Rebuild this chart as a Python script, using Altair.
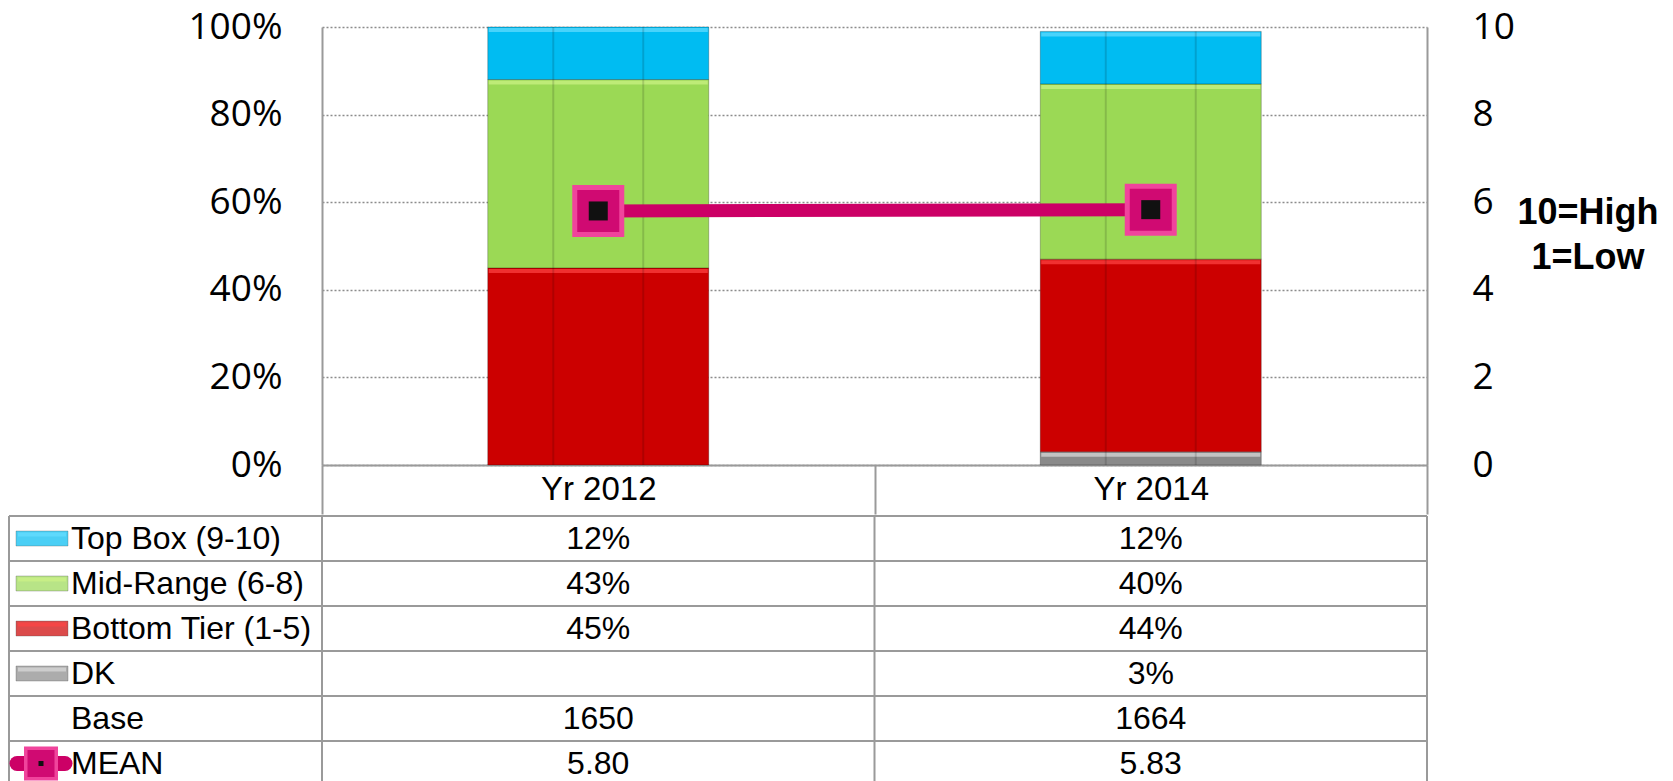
import altair as alt
import pandas as pd

# ---------------- data ----------------
years = ["Yr 2012", "Yr 2014"]
top_box = [12, 12]
mid_range = [43, 40]
bottom_tier = [45, 44]
dk = [None, 3]
base_n = [1650, 1664]
mean_score = [5.80, 5.83]

series_names = ["DK", "Bottom Tier (1-5)", "Mid-Range (6-8)", "Top Box (9-10)"]
table_rows = ["Top Box (9-10)", "Mid-Range (6-8)", "Bottom Tier (1-5)", "DK", "Base", "MEAN"]
scale_note = ["10=High", "1=Low"]
pct_ticks = [0, 20, 40, 60, 80, 100]
mean_ticks = [0, 2, 4, 6, 8, 10]

# ---------------- styles / layout ----------------
series_fill = ["#8A8A8A", "#CC0000", "#9BD955", "#00BCF2"]
series_bevel = ["#DCDCDC", "#FF4444", "#CDF286", "#66DDFF"]
FONT_AX = "Open Sans"
FONT_TB = "Liberation Sans"
GRID = "#8C8C8C"
BORDER = "#9A9A9A"
PW, PH = 1105, 438
LW = 313
HEADER_H = 49
ROW_H = 45
TABLE_H = 270

series_values = dict(zip(series_names, [dk, bottom_tier, mid_range, top_box]))

recs = []
for i, s in enumerate(series_names):
    for j, yr in enumerate(years):
        v = series_values[s][j]
        if v is not None:
            recs.append({"series": s, "year": yr, "value": v, "order": i})
bar_df = pd.DataFrame(recs)
mean_df = pd.DataFrame({"year": years, "mean": mean_score})

cells = []
for k, r in enumerate(table_rows):
    for j, yr in enumerate(years):
        if r in series_values:
            v = series_values[r][j]
            t = "" if v is None else f"{v}%"
        elif r == "Base":
            t = str(base_n[j])
        else:
            t = f"{mean_score[j]:.2f}"
        cells.append({"row": r, "year": yr, "text": t, "mid": k + 0.5})
tdf = pd.DataFrame(cells)
ldf = pd.DataFrame({"row": table_rows, "mid": [k + 0.5 for k in range(len(table_rows))]})
edges_df = pd.DataFrame({"edge": list(range(len(table_rows)))})
years_df = pd.DataFrame({"year": years})
one_df = pd.DataFrame({"k": [0]})

fill_scale = alt.Scale(domain=series_names, range=series_fill)
bevel_scale = alt.Scale(domain=series_names, range=series_bevel)

# ---------------- top chart ----------------
x_enc = alt.X(
    "year:N", sort=years, title=None,
    scale=alt.Scale(domain=years, paddingInner=0, paddingOuter=0),
    axis=alt.Axis(orient="bottom", domain=True, domainColor=BORDER, domainWidth=2,
                  ticks=True, tickBand="extent", tickSize=HEADER_H, tickColor=BORDER, tickWidth=2,
                  labelFont=FONT_TB, labelFontSize=33, labelColor="#000", labelBaseline="middle",
                  labelPadding=-HEADER_H / 2, labelAngle=0, grid=False),
)
x_plain = alt.X("year:N", sort=years, title=None)

y_pct = alt.Y(
    "v0:Q", title=None,
    scale=alt.Scale(domain=[0, 100], nice=False, zero=True),
    axis=alt.Axis(values=pct_ticks, labelExpr="datum.value + '%'", labelFont=FONT_AX,
                  labelFontSize=37, labelColor="#000", labelPadding=40, ticks=False, tickSize=0,
                  domain=True, domainColor=BORDER, domainWidth=2, grid=True, gridColor=GRID,
                  gridDash=[2, 2], gridWidth=1.5, minExtent=LW, maxExtent=LW),
)

stacked = alt.Chart(bar_df).transform_stack(
    stack="value", groupby=["year"],
    sort=[alt.SortField("order", order="ascending")], as_=["v0", "v1"],
)
bars = stacked.mark_bar(width=alt.RelativeBandSize(0.4), stroke="#000", strokeOpacity=0.25,
                        strokeWidth=1).encode(
    x=x_enc, y=y_pct, y2="v1",
    fill=alt.Fill("series:N", scale=fill_scale, legend=None),
)
bevel = stacked.mark_tick(orient="horizontal", size=219, thickness=4).encode(
    x=x_plain, y=alt.Y("v1:Q", title=None), yOffset=alt.value(3),
    color=alt.Color("series:N", scale=bevel_scale, legend=None),
)
thirds = [
    stacked.mark_rule(color="#000", opacity=0.14, strokeWidth=2).encode(
        x=alt.X("year:N", sort=years, title=None, bandPosition=bp),
        y=alt.Y("v0:Q", title=None), y2="v1")
    for bp in (0.4186, 0.5814)
]

y_mean = alt.Y(
    "mean:Q", title=None, scale=alt.Scale(domain=[0, 10], nice=False),
    axis=alt.Axis(orient="right", values=mean_ticks, labelFont=FONT_AX, labelFontSize=37,
                  labelColor="#000", labelPadding=45, ticks=False, tickSize=0, domain=True,
                  domainColor=BORDER, domainWidth=2, grid=False),
)
mbase = alt.Chart(mean_df).encode(x=x_plain, y=y_mean)
mline = mbase.mark_line(color="#CC0066", strokeWidth=13)
m1 = mbase.mark_square(size=52 * 52, color="#F0449C", opacity=1)
m2 = mbase.mark_square(size=42 * 42, color="#D00A72", opacity=1)
m3 = mbase.mark_square(size=19 * 19, color="#111111", opacity=1)

note = alt.Chart(pd.DataFrame({"note": ["\n".join(scale_note)]})).mark_text(
    font=FONT_TB, fontSize=36, fontWeight="bold", align="center", baseline="middle",
    lineHeight=45, lineBreak="\n", color="#000",
).encode(x=alt.value(1266), y=alt.value(186), text="note:N")

top = alt.layer(
    alt.layer(bars, bevel, *thirds),
    alt.layer(mline, m1, m2, m3),
    note,
).resolve_scale(y="independent").properties(width=PW, height=PH)

# ---------------- table ----------------
y_scale = alt.Scale(domain=[0, TABLE_H / ROW_H], reverse=True, nice=False, zero=False, clamp=True)
col_scale = alt.Scale(domain=years, paddingInner=0, paddingOuter=0)
col_x = alt.X("year:N", sort=years, title=None, axis=None, scale=col_scale)
mid_y = alt.Y("mid:Q", title=None, axis=None, scale=y_scale)

h_rules = alt.Chart(edges_df).mark_rule(color=BORDER, strokeWidth=2).encode(
    y=alt.Y("edge:Q", title=None, axis=None, scale=y_scale), x=alt.value(-LW), x2=alt.value(PW))
v_full_y = dict(y=alt.Y(datum=0, axis=None, scale=y_scale), y2=alt.Y2(datum=len(table_rows)))
v_cols = alt.Chart(years_df).mark_rule(color=BORDER, strokeWidth=2).encode(
    x=alt.X("year:N", sort=years, title=None, axis=None, scale=col_scale, bandPosition=0), **v_full_y)
v_left = alt.Chart(one_df).mark_rule(color=BORDER, strokeWidth=2).encode(x=alt.value(-LW), **v_full_y)
v_right = alt.Chart(one_df).mark_rule(color=BORDER, strokeWidth=2).encode(x=alt.value(PW), **v_full_y)

grid_text = alt.Chart(tdf).mark_text(font=FONT_TB, fontSize=32, color="#000").encode(
    x=col_x, y=mid_y, text="text:N")
leg_text = alt.Chart(ldf).mark_text(font=FONT_TB, fontSize=32, align="left", color="#000").encode(
    x=alt.value(-LW + 62), y=mid_y, text="row:N")

sw = alt.Chart(ldf).transform_filter(alt.FieldOneOfPredicate(field="row", oneOf=series_names))
sw_body = sw.mark_tick(orient="horizontal", size=52, thickness=15, stroke="#000",
                       strokeOpacity=0.3, strokeWidth=1).encode(
    x=alt.value(-LW + 33), y=mid_y, fill=alt.Fill("row:N", scale=fill_scale, legend=None))
sw_bevel = sw.mark_tick(orient="horizontal", size=48, thickness=4).encode(
    x=alt.value(-LW + 33), y=mid_y, yOffset=alt.value(-4),
    color=alt.Color("row:N", scale=bevel_scale, legend=None))

mw = alt.Chart(ldf).transform_filter(alt.datum.row == "MEAN")
mw_line = mw.mark_rule(color="#CC0066", strokeWidth=15, strokeCap="round").encode(
    x=alt.value(-LW + 8), x2=alt.value(-LW + 56), y=mid_y)
mw1 = mw.mark_square(size=34 * 34, color="#F0449C", opacity=1).encode(x=alt.value(-LW + 32), y=mid_y)
mw2 = mw.mark_square(size=27 * 27, color="#D00A72", opacity=1).encode(x=alt.value(-LW + 32), y=mid_y)
mw3 = mw.mark_square(size=25, color="#111111", opacity=1).encode(x=alt.value(-LW + 32), y=mid_y)

table = alt.layer(
    h_rules, v_cols, v_left, v_right, grid_text, leg_text, sw_body, sw_bevel, mw_line, mw1, mw2, mw3
).properties(width=PW, height=TABLE_H)

chart = alt.vconcat(top, table, spacing=0).properties(padding=0).configure_view(stroke=None)

chart.save("out.html", embed_options={"renderer": "svg", "actions": False})
